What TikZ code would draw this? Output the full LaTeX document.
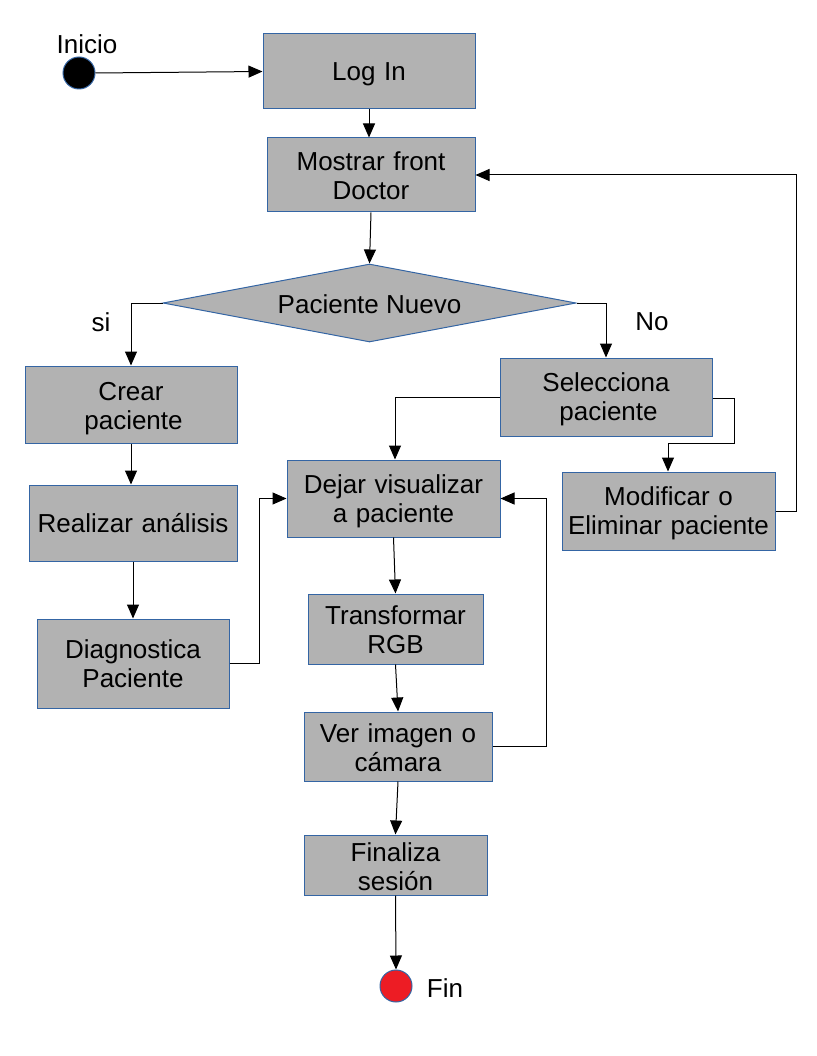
\documentclass[tikz,border=0pt]{standalone}
\usepackage{fontspec}
\setmainfont{Liberation Sans}
\usetikzlibrary{arrows.meta,shapes.geometric}
\definecolor{boxfill}{HTML}{B2B2B2}
\definecolor{boxline}{HTML}{3465A4}
\definecolor{endred}{HTML}{ED1C24}
\begin{document}
\begin{tikzpicture}[x=1pt,y=-1pt,
  box/.style={draw=boxline,fill=boxfill,line width=1pt,align=center,inner sep=0pt,
    font=\fontsize{26}{29}\selectfont},
  tb/.code={\pgfmathsetmacro\tbh{max(2*(#1),0)}\pgfmathsetmacro\tbd{max(-2*(#1),0)}\edef\tbtmp{\noexpand\pgfkeysalso{text height=\tbh pt,text depth=\tbd pt}}\tbtmp},
  lbl/.style={inner sep=0pt,font=\fontsize{26}{29}\selectfont},
  conn/.style={draw=black,line width=1pt,-{Triangle[length=14pt,width=12pt]}},
  line/.style={draw=black,line width=1pt}]
\useasboundingbox (0,0) rectangle (816,1056);
\node[circle,draw=boxline,fill=black,line width=1pt,minimum size=32pt,inner sep=0pt] (start) at (79,73) {};
\node[lbl] (inicio) at (87,44) {Inicio};
\node[box,minimum width=212pt,minimum height=75pt,text width=212pt,tb=9.5] (login) at (369,71.5) {Log In};
\node[box,minimum width=208pt,minimum height=74pt,text width=208pt,tb=-4] (mostrar) at (371,175) {Mostrar front\\Doctor};
\node[box,shape=diamond,aspect=5.3,minimum width=413pt,minimum height=78pt,text height=20pt,text depth=0pt] (diam) at (369.5,303) {Paciente Nuevo};
\node[lbl] (si) at (101,322) {si};
\node[lbl] (no) at (652,322) {No};
\node[box,minimum width=212pt,minimum height=77pt,text width=212pt,tb=-4] (crear) at (131,404.5) {Crear\\\hspace*{5pt}paciente};
\node[box,minimum width=212pt,minimum height=78pt,text width=212pt,tb=-6] (sel) at (606,397) {Selecciona\\\hspace*{5pt}paciente};
\node[box,minimum width=213pt,minimum height=77pt,text width=213pt,tb=-5] (dejar) at (393.5,498.5) {Dejar visualizar\\a paciente};
\node[box,minimum width=213pt,minimum height=78pt,text width=213pt,tb=-6] (mod) at (668.5,511) {Modificar o\\Eliminar paciente};
\node[box,minimum width=208pt,minimum height=76pt,text width=208pt,tb=9.75] (real) at (133,523) {Realizar análisis};
\node[box,minimum width=175pt,minimum height=70pt,text width=175pt,tb=-5] (rgb) at (395.5,629) {Transformar\\RGB};
\node[box,minimum width=192pt,minimum height=89pt,text width=192pt,tb=-5.2] (diag) at (133,663.5) {Diagnostica\\Paciente};
\node[box,minimum width=188pt,minimum height=69pt,text width=188pt,tb=-4.2] (ver) at (398,746.5) {Ver imagen o\\cámara};
\node[box,minimum width=183pt,minimum height=60pt,text width=183pt,tb=-3.2] (fin) at (395.5,865) {Finaliza\\sesión};
\node[circle,draw=boxline,fill=endred,line width=1pt,minimum size=32pt,inner sep=0pt] (end) at (396,986) {};
\node[lbl] (finl) at (445,988) {Fin};

\draw[conn] (start.east) -- (login.west);
\draw[conn] (login.south) -- (login.south |- mostrar.north);
\draw[conn] (mostrar.south) -- (diam.north);
\draw[conn] (diam.west) -| (crear.north);
\draw[conn] (diam.east) -| (sel.north);
\draw[conn] (sel.west) -| ([xshift=1.5pt]dejar.north);
\coordinate (s1) at (734,398);
\coordinate (s2) at (668,443);
\draw[conn] (sel.east |- s1) -- (s1) |- (s2) -- (s2 |- mod.north);
\draw[conn] (mod.east) -- ++(21,0) |- (mostrar.east);
\draw[conn] (crear.south) -- (crear.south |- real.north);
\draw[conn] (real.south) -- (diag.north);
\draw[conn] (diag.east) -- ++(30,0) |- (dejar.west);
\draw[conn] (dejar.south) -- (rgb.north);
\draw[conn] (rgb.south) -- (ver.north);
\draw[conn] (ver.east) -- ++(54,0) |- (dejar.east);
\draw[conn] (ver.south) -- (fin.north);
\draw[conn] (fin.south) -- (end.north);
\end{tikzpicture}
\end{document}
